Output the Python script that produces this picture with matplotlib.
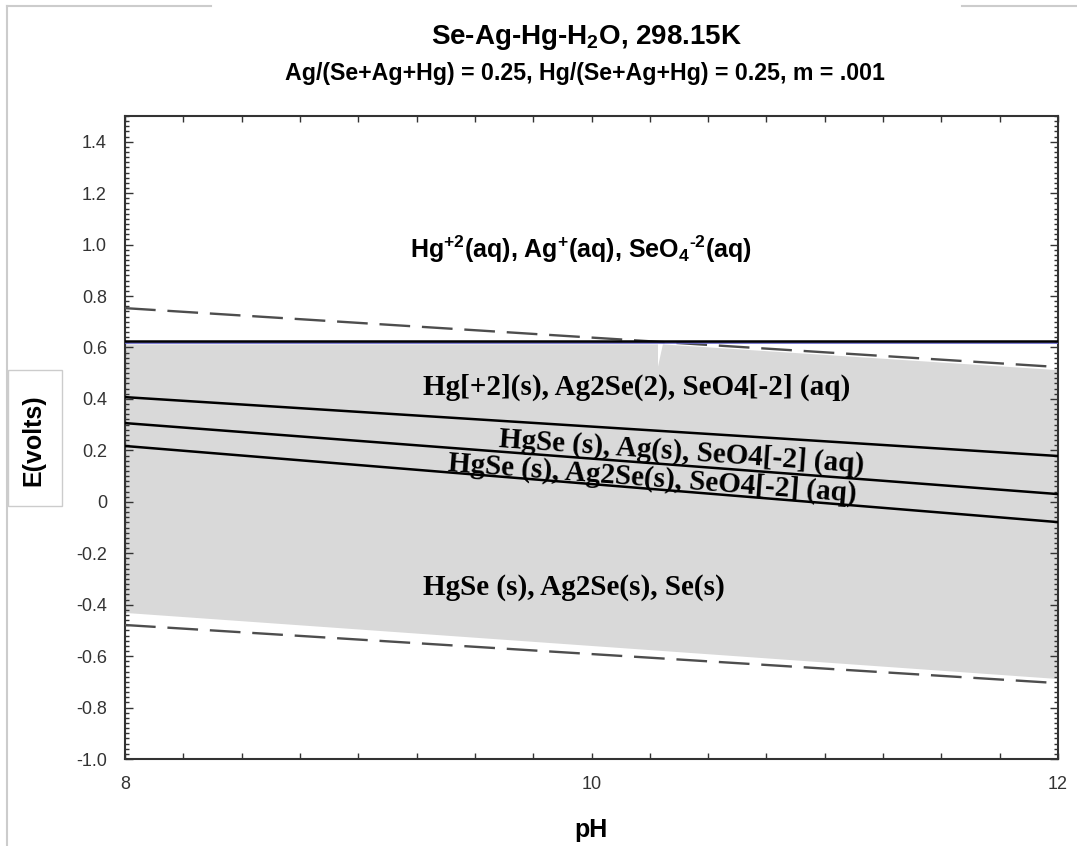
import numpy as np
import matplotlib
matplotlib.use('Agg')
import matplotlib.pyplot as plt
from matplotlib.patches import Polygon, Rectangle
from matplotlib.lines import Line2D
from matplotlib.ticker import MultipleLocator, FixedLocator, FuncFormatter

# Diagrama de Pourbaix Se-Ag-Hg-H2O
ph_ends = np.array([8.0, 12.0])

# Lineas de estabilidad del agua (discontinuas)
e_o2 = np.array([0.753, 0.524])
e_h2 = np.array([-0.479, -0.705])

# Lineas limite (continuas)
e_hg_top = np.array([0.627, 0.627])
e_blue = np.array([0.617, 0.617])
e_line1 = np.array([0.407, 0.178])
e_line2 = np.array([0.306, 0.030])
e_line3 = np.array([0.217, -0.079])

# Contorno de la region gris
gray_ph = [8.0, 10.285, 10.285, 10.306, 12.0, 12.0, 8.0]
gray_e = [0.612, 0.612, 0.525, 0.612, 0.512, -0.689, -0.432]

# Etiquetas de las regiones: texto, pH, E, rotacion, estilo
labels = [r'Hg$^{\text{+2}}$(aq), Ag$^{+}$(aq), SeO$_{4}$$^{\text{-2}}$(aq)',
          'Hg[+2](s), Ag2Se(2), SeO4[-2] (aq)',
          'HgSe (s), Ag(s), SeO4[-2] (aq)',
          'HgSe (s), Ag2Se(s), SeO4[-2] (aq)',
          'HgSe (s), Ag2Se(s), Se(s)']
label_ph = [9.955, 10.195, 10.384, 10.259, 9.925]
label_e = [0.948, 0.415, 0.163, 0.061, -0.362]
label_rot = [0, 0, -4.0, -4.3, 0]
label_serif = [False, True, True, True, True]

plt.rcParams['mathtext.fontset'] = 'custom'
plt.rcParams['mathtext.rm'] = 'Liberation Sans:bold'
plt.rcParams['mathtext.bf'] = 'Liberation Sans:bold'
plt.rcParams['mathtext.it'] = 'Liberation Sans:bold'
plt.rcParams['mathtext.default'] = 'rm'

W, H = 1077, 846
fig = plt.figure(figsize=(W / 100, H / 100), dpi=100)
ax = fig.add_axes([125 / W, 1 - 759 / H, 933 / W, 643 / H])

ax.add_patch(Polygon(np.column_stack([gray_ph, gray_e]), closed=True,
                     facecolor='#d9d9d9', edgecolor='none', zorder=1))
ax.plot([8, 8], [gray_e[-1], gray_e[0]], color='#555555', lw=1, ls=':', zorder=2)

ax.plot(ph_ends, e_o2, color='#4d4d4d', lw=1.7, dashes=(13, 5), zorder=3)
ax.plot(ph_ends, e_h2, color='#4d4d4d', lw=1.7, dashes=(13, 5), zorder=3)

ax.plot(ph_ends, e_blue, color='#6666cc', lw=1.2, zorder=4)
ax.plot(ph_ends, e_hg_top, color='black', lw=1.8, zorder=5)
for e in (e_line1, e_line2, e_line3):
    ax.plot(ph_ends, e, color='black', lw=1.8, zorder=5)

for txt, x, y, rot, serif in zip(labels, label_ph, label_e, label_rot, label_serif):
    if serif:
        ax.text(x, y, txt, family='Liberation Serif', weight='bold', fontsize=21,
                ha='center', va='baseline', rotation=rot, rotation_mode='anchor', zorder=6)
    else:
        ax.text(x, y, txt, family='Liberation Sans', weight='bold', fontsize=18,
                ha='center', va='baseline', zorder=6)

ax.set_xlim(8, 12)
ax.set_ylim(-1.0, 1.5)
ax.xaxis.set_major_locator(FixedLocator([8, 10, 12]))
ax.xaxis.set_minor_locator(MultipleLocator(0.25))
ax.yaxis.set_major_locator(FixedLocator(np.round(np.arange(-1.0, 1.41, 0.2), 2)))
ax.yaxis.set_minor_locator(MultipleLocator(0.02))
ax.yaxis.set_major_formatter(FuncFormatter(lambda v, p: '0' if abs(v) < 1e-9 else '%.1f' % v))
ax.xaxis.set_major_formatter(FuncFormatter(lambda v, p: '%d' % v))

ax.tick_params(which='both', direction='in', top=True, right=True, colors='#333333',
               labelcolor='#333333', width=1.0)
ax.tick_params(axis='y', which='major', length=6, pad=13, labelsize=13)
ax.tick_params(axis='y', which='minor', length=3)
ax.tick_params(axis='x', which='both', length=4, pad=12, labelsize=13)
for lab in ax.get_xticklabels() + ax.get_yticklabels():
    lab.set_family('Liberation Sans')
for s in ax.spines.values():
    s.set_color('#333333')
    s.set_linewidth(1.5)

# Titulos y ejes
fig.text(587 / W, 1 - 44 / H, r'Se-Ag-Hg-H$_2$O, 298.15K', family='Liberation Sans',
         weight='bold', fontsize=20, ha='center', va='baseline')
fig.text(585 / W, 1 - 80 / H, 'Ag/(Se+Ag+Hg) = 0.25, Hg/(Se+Ag+Hg) = 0.25, m = .001',
         family='Liberation Sans', weight='bold', fontsize=16.7, ha='center', va='baseline')
fig.text(591 / W, 1 - 837 / H, 'pH', family='Liberation Sans', weight='bold',
         fontsize=18, ha='center', va='baseline')

fig.patches.append(Rectangle((8 / W, 1 - 506 / H), 54 / W, 136 / H, transform=fig.transFigure,
                             facecolor='white', edgecolor='#cccccc', lw=1))
fig.text(33 / W, 1 - 440 / H, 'E(volts)', family='Liberation Sans', weight='bold',
         fontsize=18, rotation=90, ha='center', va='center')

# Marco gris de la captura
for xs, ys in (([7, 7], [846, 6]), ([7, 211], [6, 6]), ([962, 1077], [6, 6])):
    fig.lines.append(Line2D([x / W for x in xs], [1 - y / H for y in ys],
                            transform=fig.transFigure, color='#cccccc', lw=1.5))

plt.savefig('out.png', dpi=100)
